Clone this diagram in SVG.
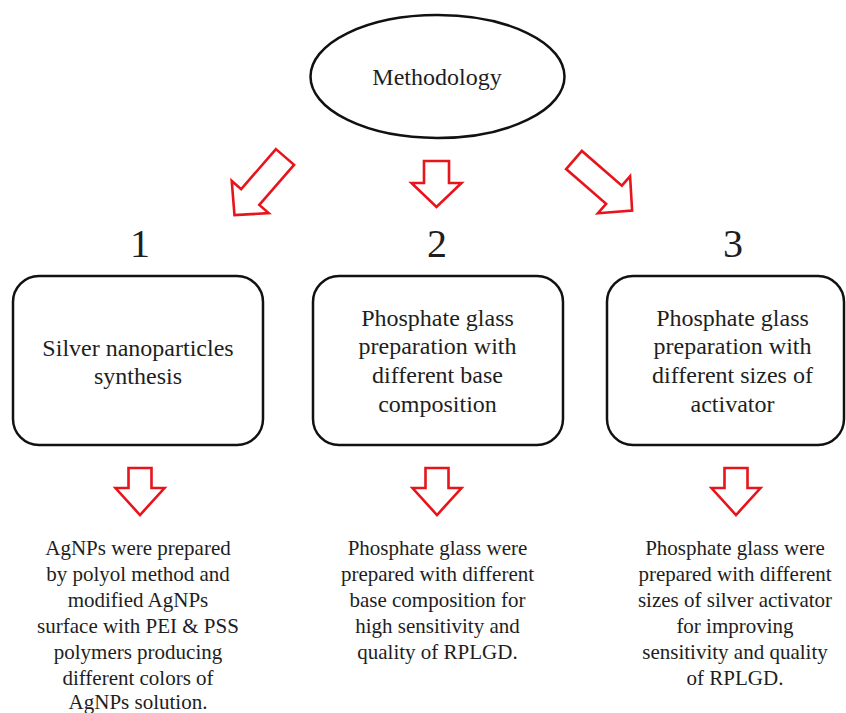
<svg xmlns="http://www.w3.org/2000/svg" width="846" height="713" viewBox="0 0 846 713">
  <defs>
    <style>
      .t { font-family: 'Liberation Serif', 'DejaVu Serif', serif; fill: #1e1e1e; text-anchor: middle; }
      .title { font-size: 24px; }
      .num { font-size: 40px; }
      .box { font-size: 24px; }
      .desc { font-size: 21px; }
      .shape { fill: #ffffff; stroke: #111111; stroke-width: 2.5; }
      .arrow { fill: #ffffff; stroke: #e8141b; stroke-width: 2.6; stroke-linejoin: miter; }
    </style>
    <polygon id="bigArrow" points="-12,0 12,0 12,53 24.5,53 0,77 -24.5,53 -12,53"/>
    <polygon id="midArrow" points="-12.5,0 12.5,0 12.5,22 25,22 0,46 -25,22 -12.5,22"/>
    <polygon id="smallArrow" points="-11.5,0 11.5,0 11.5,20 24.5,20 0,47 -24.5,20 -11.5,20"/>
  </defs>
  <rect width="846" height="713" fill="#ffffff"/>

  <g font-family="Liberation Serif, serif">
  <g id="methodology">
    <ellipse class="shape" cx="437.5" cy="76.5" rx="127" ry="61.5"/>
    <text class="t title" x="437" y="85">Methodology</text>
  </g>

  <g id="connectors">
    <use href="#bigArrow" class="arrow" transform="translate(285,157) rotate(41)"/>
    <use href="#midArrow" class="arrow" transform="translate(436.5,161)"/>
    <use href="#bigArrow" class="arrow" transform="translate(574,160) rotate(-49)"/>
    <use href="#smallArrow" class="arrow" transform="translate(140,468)"/>
    <use href="#smallArrow" class="arrow" transform="translate(437,468)"/>
    <use href="#smallArrow" class="arrow" transform="translate(736,468)"/>
  </g>

  <g id="label1"><text class="t num" x="140" y="257">1</text></g>
  <g id="label2"><text class="t num" x="437" y="257">2</text></g>
  <g id="label3"><text class="t num" x="733" y="257">3</text></g>

  <g id="box1">
    <rect class="shape" x="13" y="276" width="250" height="169" rx="26" ry="26"/>
    <text class="t box" x="138" y="355.5">Silver nanoparticles</text>
    <text class="t box" x="138" y="384">synthesis</text>
  </g>

  <g id="box2">
    <rect class="shape" x="313" y="276" width="250" height="169" rx="26" ry="26"/>
    <text class="t box" x="437.5" y="325.5">Phosphate glass</text>
    <text class="t box" x="437.5" y="354">preparation with</text>
    <text class="t box" x="437.5" y="383">different base</text>
    <text class="t box" x="437.5" y="411.5">composition</text>
  </g>

  <g id="box3">
    <rect class="shape" x="607" y="276" width="237" height="169" rx="26" ry="26"/>
    <text class="t box" x="732.5" y="325.5">Phosphate glass</text>
    <text class="t box" x="732.5" y="354">preparation with</text>
    <text class="t box" x="732.5" y="383">different sizes of</text>
    <text class="t box" x="732.5" y="411.5">activator</text>
  </g>

  <g id="desc1">
    <text class="t desc" x="138" y="555">AgNPs were prepared</text>
    <text class="t desc" x="138" y="581">by polyol method and</text>
    <text class="t desc" x="138" y="607">modified AgNPs</text>
    <text class="t desc" x="138" y="633">surface with PEI &amp; PSS</text>
    <text class="t desc" x="138" y="659">polymers producing</text>
    <text class="t desc" x="138" y="685">different colors of</text>
    <text class="t desc" x="138" y="709">AgNPs solution.</text>
  </g>

  <g id="desc2">
    <text class="t desc" x="437.5" y="555">Phosphate glass were</text>
    <text class="t desc" x="437.5" y="581">prepared with different</text>
    <text class="t desc" x="437.5" y="607">base composition for</text>
    <text class="t desc" x="437.5" y="633">high sensitivity and</text>
    <text class="t desc" x="437.5" y="659">quality of RPLGD.</text>
  </g>

  <g id="desc3">
    <text class="t desc" x="735" y="555">Phosphate glass were</text>
    <text class="t desc" x="735" y="581">prepared with different</text>
    <text class="t desc" x="735" y="607">sizes of silver activator</text>
    <text class="t desc" x="735" y="633">for improving</text>
    <text class="t desc" x="735" y="659">sensitivity and quality</text>
    <text class="t desc" x="735" y="685">of RPLGD.</text>
  </g>
  </g>
</svg>
